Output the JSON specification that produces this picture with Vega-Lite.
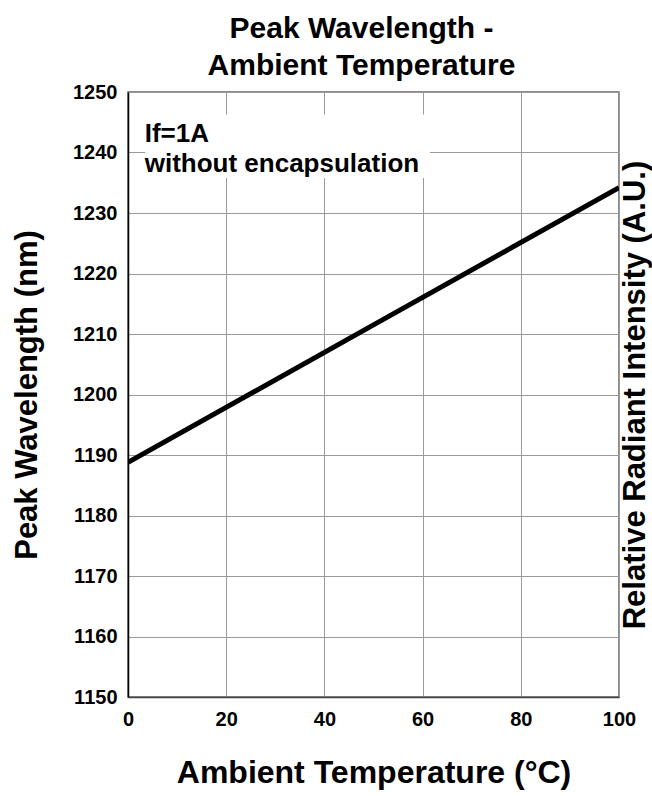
{
  "$schema": "https://vega.github.io/schema/vega-lite/v6.json",
  "width": 491,
  "height": 605,
  "autosize": {"type": "none"},
  "padding": {"left": 128, "top": 92, "right": 33, "bottom": 99},
  "background": "white",
  "config": {
    "font": "Liberation Sans",
    "view": {"stroke": "#666666", "strokeWidth": 1.5}
  },
  "title": {
    "text": ["Peak Wavelength -", "Ambient Temperature"],
    "fontSize": 30,
    "fontWeight": "bold",
    "color": "black",
    "anchor": "middle",
    "frame": "group",
    "lineHeight": 37,
    "offset": 1,
    "dx": -12
  },
  "datasets": {
    "curve": [
      {"temp": 0, "wl": 1188.8},
      {"temp": 50, "wl": 1211.5},
      {"temp": 100, "wl": 1234.2}
    ],
    "box": [
      {"x1": 3.5, "x2": 61.5, "y1": 1235.8, "y2": 1246.3}
    ],
    "notes": [
      {"temp": 3.4, "wl": 1241.8, "label": "If=1A"},
      {"temp": 3.4, "wl": 1236.8, "label": "without encapsulation"}
    ]
  },
  "layer": [
    {
      "encoding": {
        "x": {
          "type": "quantitative",
          "scale": {"domain": [0, 100], "nice": false, "zero": false},
          "axis": {
            "values": [0, 20, 40, 60, 80, 100],
            "format": "d",
            "gridColor": "#9a9a9a", "gridWidth": 1, "gridOpacity": 1,
            "ticks": false, "domainColor": "#444444", "domainWidth": 1.5,
            "labelFontSize": 20, "labelFontWeight": "bold", "labelColor": "black",
            "labelPadding": 12, "labelFlush": false,
            "title": "Ambient Temperature (°C)",
            "titleFontSize": 32, "titleFontWeight": "bold", "titleColor": "black",
            "titleBaseline": "alphabetic", "titleY": 85
          }
        },
        "y": {
          "type": "quantitative",
          "scale": {"domain": [1150, 1250], "nice": false, "zero": false},
          "axis": {
            "values": [1150, 1160, 1170, 1180, 1190, 1200, 1210, 1220, 1230, 1240, 1250],
            "format": "d",
            "gridColor": "#9a9a9a", "gridWidth": 1, "gridOpacity": 1,
            "ticks": false, "domainColor": "black", "domainWidth": 1.5,
            "labelFontSize": 20, "labelFontWeight": "bold", "labelColor": "black",
            "labelPadding": 11, "labelFlush": false,
            "title": "Peak Wavelength (nm)",
            "titleFontSize": 31, "titleFontWeight": "bold", "titleColor": "black",
            "titleBaseline": "alphabetic", "titleX": -92
          }
        }
      },
      "layer": [
        {
          "data": {"name": "curve"},
          "mark": {"type": "line", "color": "black", "strokeWidth": 5, "clip": true},
          "encoding": {
            "x": {"field": "temp", "type": "quantitative"},
            "y": {"field": "wl", "type": "quantitative"}
          }
        },
        {
          "data": {"name": "box"},
          "mark": {"type": "rect", "fill": "white"},
          "encoding": {
            "x": {"field": "x1", "type": "quantitative"},
            "x2": {"field": "x2"},
            "y": {"field": "y1", "type": "quantitative"},
            "y2": {"field": "y2"}
          }
        },
        {
          "data": {"name": "notes"},
          "mark": {"type": "text", "align": "left", "baseline": "alphabetic", "fontSize": 26, "fontWeight": "bold", "color": "black"},
          "encoding": {
            "x": {"field": "temp", "type": "quantitative"},
            "y": {"field": "wl", "type": "quantitative"},
            "text": {"field": "label"}
          }
        }
      ]
    },
    {
      "data": {"name": "curve"},
      "mark": {"type": "line", "opacity": 0},
      "encoding": {
        "x": {"field": "temp", "type": "quantitative", "scale": {"domain": [0, 100], "nice": false, "zero": false}},
        "y": {
          "field": "wl", "type": "quantitative",
          "scale": {"domain": [1150, 1250], "nice": false, "zero": false},
          "axis": {
            "orient": "right", "labels": false, "ticks": false, "domain": false, "grid": false,
            "title": "Relative Radiant Intensity (A.U.)",
            "titleFontSize": 31, "titleFontWeight": "bold", "titleColor": "black",
            "titleAngle": 270, "titleBaseline": "alphabetic", "titleX": 25
          }
        }
      }
    }
  ],
  "resolve": {"scale": {"y": "independent"}}
}
